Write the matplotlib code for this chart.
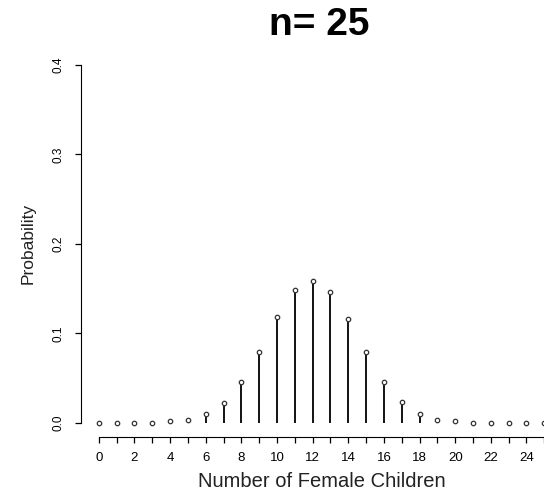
"""Binomial-looking probability chart: number of female children, n = 25."""

import matplotlib
matplotlib.use("Agg")
import matplotlib.pyplot as plt

plt.rcParams["font.family"] = ["Liberation Sans", "DejaVu Sans"]

# values
children = list(range(26))
probability = [0.0, 0.0, 0.0, 0.0002, 0.0019, 0.003, 0.0097, 0.022, 0.0456, 0.079,
               0.118, 0.148, 0.159, 0.1466, 0.116, 0.079, 0.0456, 0.023, 0.0097,
               0.003, 0.0019, 0.0002, 0.0, 0.0, 0.0, 0.0]
x_labels = [str(v) if v % 2 == 0 and v < 25 else "" for v in children]
y_ticks = [0.0, 0.1, 0.2, 0.3, 0.4]

fig = plt.figure(figsize=(5.44, 4.91), dpi=100)
ax = fig.add_axes([0.1489, 0.110, 0.8844, 0.7867])

ax.vlines(children, 0, probability, color="black", linewidth=1.3)
ax.plot(children, probability, "o", markersize=3.2, markerfacecolor="white",
        markeredgecolor="#333333", markeredgewidth=0.9, clip_on=False)

ax.set_xlim(-1, 26)
ax.set_ylim(-0.016, 0.416)

for side in ("top", "right"):
    ax.spines[side].set_visible(False)
ax.spines["left"].set_bounds(0, 0.4)
ax.spines["bottom"].set_bounds(0, 26)

ax.set_xticks(children)
ax.set_xticklabels(x_labels)
ax.set_yticks(y_ticks)
ax.set_yticklabels([f"{v:.1f}" for v in y_ticks], rotation=90, va="center")
ax.tick_params(axis="x", length=4.5, width=0.9, pad=6, labelsize=9.5)
ax.tick_params(axis="y", length=4, width=0.9, pad=8, labelsize=8.5)

ax.set_xlabel("Number of Female Children", fontsize=14.5, labelpad=6,
              color="#222222")
ax.set_ylabel("Probability", fontsize=12.5, labelpad=12, color="#222222")
fig.text(0.587, 0.949, "n= 25", ha="center", va="center",
         fontsize=28, fontweight="bold")

fig.savefig("out.png", dpi=100)
